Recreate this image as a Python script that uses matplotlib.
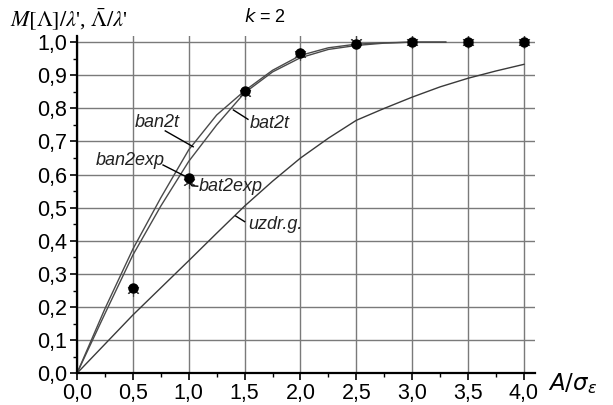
import numpy as np
import matplotlib
matplotlib.use("Agg")
import matplotlib.pyplot as plt
from matplotlib.ticker import MultipleLocator, FuncFormatter

# curves
x_t = [0.0, 0.25, 0.5, 0.75, 1.0, 1.25, 1.5, 1.75, 2.0, 2.25, 2.5, 2.75, 3.0, 3.3]
ban2t = [0.0, 0.195, 0.375, 0.53, 0.675, 0.78, 0.853, 0.915, 0.96, 0.983, 0.994, 0.998, 1.0, 1.0]
bat2t = [0.0, 0.18, 0.357, 0.505, 0.64, 0.75, 0.847, 0.91, 0.953, 0.978, 0.99, 0.997, 1.0, 1.0]

x_g = [0.0, 0.25, 0.5, 0.75, 1.0, 1.25, 1.5, 1.75, 2.0, 2.25, 2.5, 2.75, 3.0, 3.25, 3.5, 3.75, 4.0]
uzdr_g = [0.0, 0.088, 0.176, 0.258, 0.34, 0.423, 0.505, 0.58, 0.65, 0.71, 0.764, 0.80, 0.834,
          0.865, 0.891, 0.913, 0.933]

# experimental points
x_exp = [0.5, 1.0, 1.5, 2.0, 2.5, 3.0, 3.5, 4.0]
ban2exp = [0.252, 0.578, 0.845, 0.965, 1.0, 1.0, 1.0, 1.0]
bat2exp = [0.259, 0.589, 0.851, 0.967, 0.993, 1.0, 1.0, 1.0]

plt.rcParams['font.family'] = ['Liberation Sans', 'DejaVu Sans']

fig = plt.figure(figsize=(6.13, 4.05), dpi=100)
ax = fig.add_axes([0.1256, 0.0783, 0.7474, 0.834])

ax.set_xlim(0, 4.1)
ax.set_ylim(0, 1.02)
ax.xaxis.set_major_locator(MultipleLocator(0.5))
ax.xaxis.set_minor_locator(MultipleLocator(0.25))
ax.yaxis.set_major_locator(MultipleLocator(0.1))
ax.yaxis.set_minor_locator(MultipleLocator(0.05))
comma = FuncFormatter(lambda v, p: f"{v:.1f}".replace(".", ","))
ax.xaxis.set_major_formatter(comma)
ax.yaxis.set_major_formatter(comma)
ax.tick_params(which='major', direction='out', length=5, width=1.2, labelsize=15.5, pad=2)
ax.tick_params(which='minor', direction='out', length=3, width=1.0)

ax.grid(True, which='major', color='#7a7a7a', lw=1.0)
ax.set_axisbelow(True)
for s in ['top', 'right']:
    ax.spines[s].set_visible(False)
for s in ['left', 'bottom']:
    ax.spines[s].set_linewidth(1.6)

ax.plot(x_g, uzdr_g, color='#3a3a3a', lw=1.0)
ax.plot(x_t, ban2t, color='#4a4a4a', lw=1.0)
ax.plot(x_t, bat2t, color='#4a4a4a', lw=1.0)
ax.plot(x_exp, ban2exp, ls='none', marker=(6, 2, 0), ms=9, mec='#444444', mew=0.8, clip_on=False)
ax.plot(x_exp, bat2exp, ls='none', marker='o', ms=6.5, color='black', clip_on=False, zorder=5)

lab = dict(fontsize=13, style='italic', color='#222222')
ax.text(0.715, 0.756, "ban2t", ha='center', va='center', **lab)
ax.plot([0.79, 1.04], [0.732, 0.684], color='black', lw=1.0)
ax.text(1.55, 0.755, "bat2t", ha='left', va='center', **lab)
ax.plot([1.40, 1.53], [0.795, 0.767], color='black', lw=1.0)
ax.text(0.474, 0.644, "ban2exp", ha='center', va='center', **lab)
ax.plot([0.77, 0.98], [0.629, 0.593], color='black', lw=1.0)
ax.text(1.09, 0.565, "bat2exp", ha='left', va='center', **lab)
ax.plot([1.0, 1.03, 1.08], [0.578, 0.566, 0.565], color='black', lw=1.0)
ax.text(1.53, 0.448, "uzdr.g.", ha='left', va='center', **lab)
ax.plot([1.42, 1.50], [0.475, 0.458], color='black', lw=1.0)

fig.text(10 / 613, 1 - 20 / 405, r"$M[\Lambda]/\lambda$', $\bar{\Lambda}/\lambda$'",
         family='Liberation Serif', math_fontfamily='stix', fontsize=16, ha='left', va='center')
fig.text(265 / 613, 1 - 17 / 405, "$k$ = 2", fontsize=13, ha='center', va='center',
         math_fontfamily='dejavusans')
fig.text(548 / 613, 1 - 384 / 405, r"$A/\sigma_\varepsilon$", fontsize=16.5,
         math_fontfamily='dejavusans', ha='left', va='center')

fig.savefig("out.png", dpi=100)
